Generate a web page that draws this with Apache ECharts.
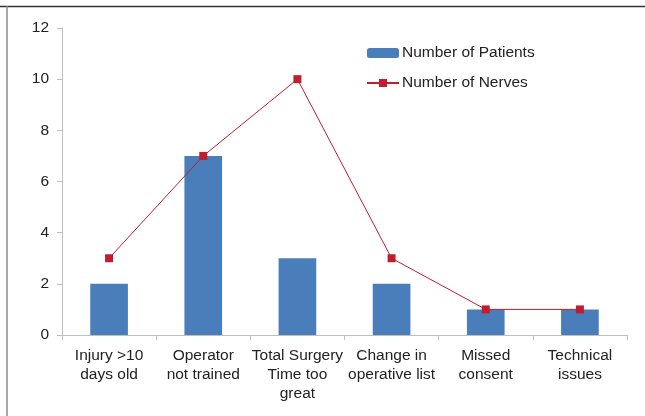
<!DOCTYPE html>
<html><head><meta charset="utf-8">
<script src="https://cdn.jsdelivr.net/npm/echarts@6/dist/echarts.min.js"></script>
<style>html,body{margin:0;padding:0;background:#fff}#c{width:645px;height:416px}</style>
</head><body><div id="c"></div>
<script>
const categories = ["Injury >10\ndays old","Operator\nnot trained","Total Surgery\nTime too\ngreat","Change in\noperative list","Missed\nconsent","Technical\nissues"];
const patients = [2,7,3,2,1,1];
const nerves = [3,7,10,3,1,1];
const yTicks = {min:0,max:12,interval:2};

const chart = echarts.init(document.getElementById('c'), null, {renderer:'canvas'});
chart.setOption({
  animation:false,
  textStyle:{fontFamily:'Liberation Sans, Arial, sans-serif'},
  graphic:[
    {type:'line',shape:{x1:0,y1:6.5,x2:645,y2:6.5},style:{stroke:'#333',lineWidth:1.5},silent:true},
    {type:'line',shape:{x1:7,y1:6,x2:7,y2:416},style:{stroke:'#888',lineWidth:1.5},silent:true}
  ],
  grid:{left:62,right:18,top:28,bottom:81},
  legend:{orient:'vertical',left:361,top:40,itemWidth:32,itemHeight:10,itemGap:14,
    textStyle:{fontSize:15.5,color:'#222',padding:[0,0,0,-2]},
    data:['Number of Patients','Number of Nerves']},
  xAxis:{type:'category',data:categories,
    axisLine:{lineStyle:{color:'#bfbfbf'}},
    axisTick:{show:true,alignWithLabel:false,length:5,lineStyle:{color:'#bfbfbf'}},
    axisLabel:{fontSize:15.5,color:'#222',lineHeight:19,margin:11,interval:0}},
  yAxis:{type:'value',min:yTicks.min,max:yTicks.max,interval:yTicks.interval,
    axisLine:{show:true,lineStyle:{color:'#bfbfbf'}},
    axisTick:{show:true,length:5,lineStyle:{color:'#bfbfbf'}},
    splitLine:{show:false},
    axisLabel:{fontSize:15.5,color:'#222',margin:13}},
  series:[
    {name:'Number of Patients',type:'bar',data:patients,barWidth:'40%',itemStyle:{color:'#4a7ebb'}},
    {name:'Number of Nerves',type:'line',data:nerves,symbol:'rect',symbolSize:8,
      lineStyle:{color:'#be1e2d',width:1},itemStyle:{color:'#be1e2d'}}
  ]
});
</script></body></html>
